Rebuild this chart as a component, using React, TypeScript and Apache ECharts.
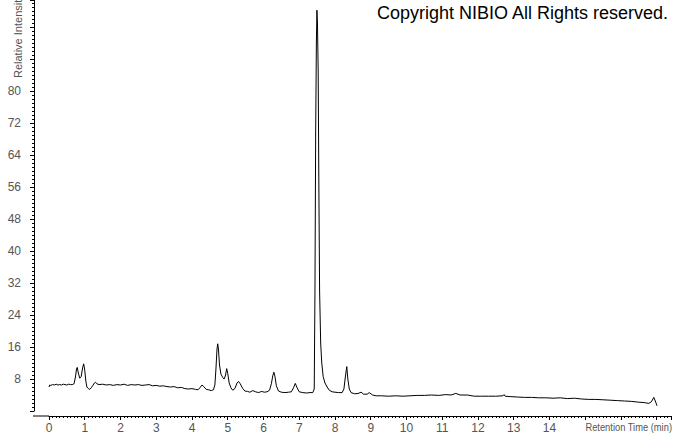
import React, { useEffect, useRef } from "react";
import * as echarts from "echarts";

const times: number[] = [
  0.0, 0.02, 0.05, 0.1, 0.15, 0.2, 0.25, 0.3, 0.35, 0.4, 0.45, 0.5, 0.55, 0.6, 0.65, 0.7,
  0.74, 0.77, 0.79, 0.82, 0.86, 0.9, 0.94, 0.97, 1.0, 1.03, 1.06, 1.1, 1.14, 1.18, 1.22, 1.27,
  1.3, 1.34, 1.4, 1.5, 1.6, 1.7, 1.8, 1.9, 2.0, 2.1, 2.2, 2.3, 2.4, 2.5, 2.6, 2.7, 2.8, 2.9,
  3.0, 3.1, 3.2, 3.3, 3.4, 3.5, 3.6, 3.7, 3.8, 3.9, 4.0, 4.1, 4.17, 4.22, 4.28, 4.33, 4.4, 4.47,
  4.54, 4.6, 4.64, 4.67, 4.7, 4.72, 4.74, 4.77, 4.81, 4.86, 4.9, 4.94, 4.97, 5.0, 5.04, 5.09,
  5.14, 5.2, 5.26, 5.3, 5.35, 5.42, 5.48, 5.55, 5.62, 5.7, 5.78, 5.86, 5.95, 6.02, 6.1, 6.17,
  6.22, 6.26, 6.29, 6.32, 6.36, 6.42, 6.5, 6.6, 6.7, 6.78, 6.84, 6.89, 6.94, 7.0, 7.1, 7.2,
  7.3, 7.38, 7.42, 7.44, 7.46, 7.48, 7.495, 7.51, 7.53, 7.55, 7.57, 7.6, 7.63, 7.67, 7.72, 7.78,
  7.84, 7.92, 8.0, 8.1, 8.2, 8.25, 8.29, 8.33, 8.36, 8.4, 8.45, 8.55, 8.65, 8.73, 8.8, 8.9,
  8.96, 9.05, 9.15, 9.3, 9.5, 9.7, 9.9, 10.1, 10.3, 10.5, 10.7, 10.9, 11.1, 11.25, 11.38, 11.5,
  11.7, 11.9, 12.1, 12.3, 12.5, 12.7, 12.73, 12.76, 12.9, 13.1, 13.3, 13.5, 13.7, 13.9, 14.1, 14.3,
  14.5, 14.7, 14.9, 15.1, 15.3, 15.5, 15.7, 15.9, 16.1, 16.3, 16.5, 16.65, 16.78, 16.85, 16.92, 16.96,
  17.01,
];

const intensity: number[] = [
  6.0, 6.5, 6.4, 6.6, 6.5, 6.7, 6.5, 6.6, 6.5, 6.7, 6.6, 6.5, 6.7, 6.6, 6.6, 6.8,
  8.5, 10.5, 10.9, 9.5, 8.2, 8.6, 10.8, 11.8, 10.2, 7.5, 6.0, 5.6, 5.4, 5.8, 6.3, 7.0,
  7.2, 6.8, 6.6, 6.7, 6.5, 6.6, 6.4, 6.6, 6.5, 6.7, 6.4, 6.6, 6.5, 6.6, 6.4, 6.5, 6.6, 6.3,
  6.4, 6.2, 6.3, 6.1, 6.0, 6.1, 5.8, 5.9, 5.6, 5.5, 5.6, 5.4, 5.3, 5.8, 6.5, 6.1, 5.4, 5.3,
  5.1, 5.3, 6.5, 10.5, 15.5, 16.8, 15.5, 11.5, 9.2, 8.4, 8.0, 9.0, 10.6, 9.4, 7.0, 5.8,
  5.2, 5.6, 7.0, 7.4, 6.8, 5.6, 5.0, 4.9, 4.7, 5.1, 4.8, 4.6, 4.9, 4.7, 4.8, 5.2,
  6.8, 8.8, 9.7, 8.7, 6.3, 5.0, 4.7, 4.6, 4.7, 4.8, 5.8, 6.9, 5.8, 4.8, 4.6, 4.5,
  4.6, 4.6, 5.5, 30, 70, 92, 100.2, 97, 85, 55, 30, 17, 12, 8.6, 7.0, 6.0,
  5.2, 4.8, 4.7, 4.6, 4.6, 5.5, 8.5, 11.1, 8.0, 5.5, 4.6, 4.3, 4.4, 4.7, 4.2, 4.2,
  4.6, 4.0, 3.8, 3.8, 3.7, 3.8, 3.7, 3.8, 3.9, 3.9, 4.0, 3.9, 4.1, 4.0, 4.4, 4.0,
  4.0, 3.7, 3.7, 3.7, 3.7, 3.8, 4.1, 3.7, 3.6, 3.5, 3.4, 3.4, 3.3, 3.3, 3.2, 3.3,
  3.1, 3.2, 3.0, 2.9, 2.9, 2.8, 2.7, 2.6, 2.5, 2.4, 2.2, 2.1, 1.9, 2.3, 3.4, 2.5,
  1.3,
];

const xTickMax = 14;
const yTickMax = 80;
const titleText = "Copyright NIBIO All Rights reserved.";
const xName = "Retention Time (min)";
const yName = "Relative Intensity";

export default function App() {
  const ref = useRef<HTMLDivElement>(null);
  useEffect(() => {
    if (!ref.current) return;
    const chart = echarts.init(ref.current, null, { renderer: "svg" });
    const data = times.map((t, i) => [t, intensity[i]]);
    const labelColor = "#555";
    chart.setOption({
      animation: false,
      backgroundColor: "#fff",
      grid: { left: 49, right: 2, top: 0, bottom: 23, containLabel: false },
      xAxis: {
        type: "value",
        min: 0,
        max: 17.4,
        interval: 1,
        offset: 5,
        axisLine: { show: true, onZero: false, lineStyle: { color: "#000", width: 1 } },
        axisTick: { show: true, length: 4, lineStyle: { color: "#000" } },
        minorTick: { show: true, splitNumber: 10, length: 2, lineStyle: { color: "#000" } },
        splitLine: { show: false },
        axisLabel: {
          margin: 6,
          color: labelColor,
          fontFamily: "Liberation Sans, Arial, sans-serif",
          fontSize: 12,
          formatter: (v: number) => (v <= xTickMax ? String(v) : ""),
        },
      },
      yAxis: {
        type: "value",
        min: 0,
        max: 102.75,
        interval: 8,
        offset: 15,
        axisLine: { show: true, onZero: false, lineStyle: { color: "#000", width: 1 } },
        axisTick: { show: true, length: 4, lineStyle: { color: "#000" } },
        minorTick: { show: true, splitNumber: 8, length: 2, lineStyle: { color: "#000" } },
        splitLine: { show: false },
        axisLabel: {
          margin: 13,
          color: labelColor,
          fontFamily: "Liberation Sans, Arial, sans-serif",
          fontSize: 12,
          formatter: (v: number) => (v > 0 && v <= yTickMax ? String(v) : ""),
        },
      },
      series: [
        {
          type: "line",
          data,
          showSymbol: false,
          symbol: "none",
          lineStyle: { color: "#000", width: 1 },
          clip: true,
        },
      ],
      graphic: [
        {
          type: "line",
          shape: { x1: 33, y1: 416, x2: 49, y2: 416 },
          style: { stroke: "#000", lineWidth: 1 },
        },
        {
          type: "text",
          x: 377,
          y: 4,
          style: {
            text: titleText,
            fill: "#000",
            font: "18px Liberation Sans, Arial, sans-serif",
          },
        },
        {
          type: "text",
          x: 672,
          y: 422,
          scaleX: 0.85,
          style: {
            text: xName,
            fill: labelColor,
            align: "right",
            font: "11px Liberation Sans, Arial, sans-serif",
          },
        },
        {
          type: "text",
          x: 12,
          y: 78,
          rotation: Math.PI / 2,
          style: {
            text: yName,
            fill: labelColor,
            font: "11px Liberation Sans, Arial, sans-serif",
          },
        },
      ],
    });
    return () => chart.dispose();
  }, []);
  return <div ref={ref} style={{ width: 674, height: 434, position: "absolute", left: 0, top: 0 }} />;
}
